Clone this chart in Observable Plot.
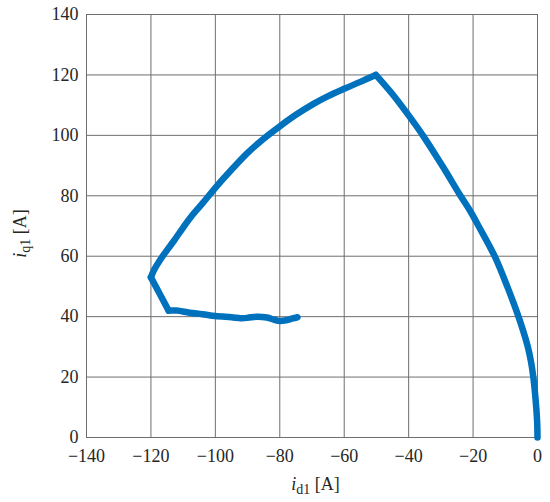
<!DOCTYPE html>
<html>
<head>
<meta charset="utf-8">
<script src="https://cdn.jsdelivr.net/npm/d3@7"></script>
<script src="https://cdn.jsdelivr.net/npm/@observablehq/plot@0.6"></script>
<style>
  html, body { margin: 0; padding: 0; background: #fff; }
  #chart { width: 550px; height: 502px; }
</style>
</head>
<body>
<div id="chart"></div>
<script>
// Current trajectory i_d1 [A] vs i_q1 [A], split into its pieces
const part = [
  "tail","tail","tail","tail","tail","tail","tail","tail","tail","tail","tail","tail","tail","tail","tail",
  "ramp","ramp","ramp",
  "arc","arc","arc","arc","arc","arc","arc","arc","arc","arc","arc","arc","arc","arc","arc","arc","arc","arc","arc",
  "right","right","right","right","right","right","right","right","right","right","right","right","right","right","right","right","right","right"];
const id1 = [
  -74.5, -76, -78, -80.5, -81.8, -84, -87, -90, -92, -95, -100, -104, -108, -112, -114.5,
  -114.5, -117, -120,
  -120, -119, -117, -115, -112.8, -110, -107.6, -104, -99.8, -95, -90, -85, -80, -75, -69.4, -65, -59.8, -55, -50.2,
  -50.2, -45, -40, -35.6, -29.6, -23.9, -20.8, -18.3, -13.3, -9.4, -5.9, -3.0, -2.0, -1.3, -0.8, -0.4, -0.1, 0];
const iq1 = [
  39.8, 39.4, 38.8, 38.6, 39.0, 39.7, 40.0, 39.6, 39.5, 39.8, 40.2, 40.8, 41.3, 42.0, 42.0,
  42.0, 47, 53,
  53, 55.5, 59, 62, 65.2, 69.5, 73, 77.5, 82.9, 88.6, 94.2, 98.9, 103, 106.8, 110.5, 113, 115.5, 117.7, 120,
  120, 113.6, 106.6, 100, 90, 80, 74.8, 70, 60, 50, 40, 30, 25, 20, 15, 10, 5, 0];
const xTicks = [-140, -120, -100, -80, -60, -40, -20, 0];
const yTicks = [0, 20, 40, 60, 80, 100, 120, 140];

const data = id1.map((d, i) => ({id: d, iq: iq1[i], part: part[i]}));
const smooth = data.filter(d => d.part !== "ramp");
const ramp = data.filter(d => d.part === "ramp");
const font = "'Liberation Serif', 'DejaVu Serif', serif";
const lineStyle = {x: "id", y: "iq", z: "part", stroke: "#0072BD", strokeWidth: 6.5,
  strokeLinejoin: "round", strokeLinecap: "round"};

const svg = Plot.plot({
  width: 550,
  height: 502,
  marginLeft: 86,
  marginRight: 13,
  marginTop: 14,
  marginBottom: 65,
  style: {fontFamily: font, fontSize: "18px", color: "#262626", background: "#fff"},
  x: {domain: [-140, 0]},
  y: {domain: [0, 140]},
  marks: [
    Plot.gridX(xTicks, {stroke: "#6e6e6e", strokeOpacity: 1, strokeWidth: 1}),
    Plot.gridY(yTicks, {stroke: "#6e6e6e", strokeOpacity: 1, strokeWidth: 1}),
    Plot.axisX(xTicks, {tickSize: 0, tickPadding: 12, label: null, fontSize: 18}),
    Plot.axisY(yTicks, {tickSize: 0, tickPadding: 8, label: null, fontSize: 18}),
    Plot.line(smooth, {...lineStyle, curve: "catmull-rom"}),
    Plot.line(ramp, {...lineStyle, curve: "linear"})
  ]
});

const xs = svg.scale("x"), ys = svg.scale("y");
const cx = (xs.range[0] + xs.range[1]) / 2;
const cy = (ys.range[0] + ys.range[1]) / 2;
const sel = d3.select(svg);

const xl = sel.append("text")
  .attr("x", cx + 4).attr("y", ys.range[0] + 53)
  .attr("text-anchor", "middle")
  .attr("font-family", font).attr("font-size", 18).attr("fill", "#262626");
xl.append("tspan").attr("font-style", "italic").text("i");
xl.append("tspan").attr("font-size", 14).attr("dy", 4).text("d1");
xl.append("tspan").attr("dy", -4).text(" [A]");

const yl = sel.append("text")
  .attr("transform", `translate(${xs.range[0] - 60},${cy + 8}) rotate(-90)`)
  .attr("text-anchor", "middle")
  .attr("font-family", font).attr("font-size", 18).attr("fill", "#262626");
yl.append("tspan").attr("font-style", "italic").text("i");
yl.append("tspan").attr("font-size", 14).attr("dy", 4).text("q1");
yl.append("tspan").attr("dy", -4).text(" [A]");

document.getElementById("chart").appendChild(svg);
</script>
</body>
</html>
